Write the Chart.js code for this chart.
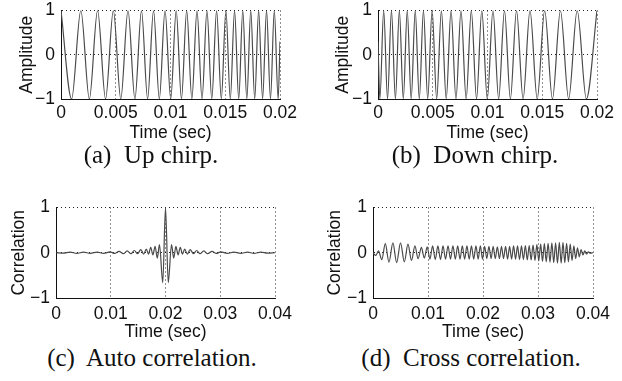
<!DOCTYPE html>
<html>
<head>
<meta charset="utf-8">
<script src="https://cdn.jsdelivr.net/npm/chart.js@4.4.0/dist/chart.umd.min.js"></script>
<style>
  body { margin: 0; background: #fff; width: 622px; height: 381px; overflow: hidden; position: relative; }
  canvas { position: absolute; }
  .cap { position: absolute; font-family: "Liberation Serif", "Times New Roman", serif; font-size: 25px; color: #111;
         white-space: pre; transform: translate(-50%, -50%); }
</style>
</head>
<body>
<canvas id="upChirp"></canvas>
<canvas id="downChirp"></canvas>
<canvas id="autoCorr"></canvas>
<canvas id="crossCorr"></canvas>
<div class="cap" style="left:151px;top:155px">(a)  Up chirp.</div>
<div class="cap" style="left:475px;top:155px">(b)  Down chirp.</div>
<div class="cap" style="left:152px;top:358px">(c)  Auto correlation.</div>
<div class="cap" style="left:471px;top:358px">(d)  Cross correlation.</div>
<script>
// extrema of the chirps (sec, amplitude)
const upTime = [0, 0.00097, 0.00181, 0.00259, 0.00334, 0.00407, 0.00478, 0.00546, 0.00612, 0.00675,
  0.00735, 0.00791, 0.00845, 0.00898, 0.00950, 0.01002, 0.01052, 0.01100, 0.01148, 0.01195,
  0.01242, 0.01288, 0.01333, 0.01377, 0.01421, 0.01464, 0.01506, 0.01546, 0.01585, 0.01623,
  0.01660, 0.01697, 0.01733, 0.01769, 0.01805, 0.01841, 0.01877, 0.01913, 0.01948, 0.01983, 0.02];
const upAmp = [1, -1, 1, -1, 1, -1, 1, -1, 1, -1,
  1, -1, 1, -1, 1, -1, 1, -1, 1, -1,
  1, -1, 1, -1, 1, -1, 1, -1, 1, -1,
  1, -1, 1, -1, 1, -1, 1, -1, 1, -1, 0.3];

const downTime = [0, 0.00017, 0.00052, 0.00087, 0.00123, 0.00159, 0.00195, 0.00231, 0.00267, 0.00303,
  0.00340, 0.00377, 0.00415, 0.00454, 0.00494, 0.00536, 0.00579, 0.00623, 0.00667, 0.00712,
  0.00758, 0.00805, 0.00852, 0.00900, 0.00948, 0.00998, 0.01050, 0.01102, 0.01155, 0.01209,
  0.01265, 0.01325, 0.01388, 0.01454, 0.01522, 0.01593, 0.01666, 0.01741, 0.01819, 0.01903, 0.02];
const downAmp = [0.3, -1, 1, -1, 1, -1, 1, -1, 1, -1,
  1, -1, 1, -1, 1, -1, 1, -1, 1, -1,
  1, -1, 1, -1, 1, -1, 1, -1, 1, -1,
  1, -1, 1, -1, 1, -1, 1, -1, 1, -1, 1];

const autoTime = [0, 0.0013, 0.0026, 0.0038, 0.0050, 0.0063, 0.0075, 0.0087, 0.0099, 0.0107,
  0.0115, 0.0123, 0.0130, 0.0137, 0.0143, 0.0149, 0.0155, 0.0160, 0.0165, 0.0169,
  0.0173, 0.0177, 0.0181, 0.0185, 0.0189, 0.0195, 0.0200, 0.0205, 0.0211, 0.0215,
  0.0219, 0.0223, 0.0227, 0.0231, 0.0235, 0.0240, 0.0245, 0.0251, 0.0257, 0.0263,
  0.0270, 0.0277, 0.0285, 0.0293, 0.0301, 0.0313, 0.0325, 0.0337, 0.0350, 0.0362,
  0.0374, 0.0387, 0.0400];
const autoVal = [0, -0.01, 0.012, -0.012, 0.012, -0.012, 0.015, -0.015, 0.02, -0.015,
  0.03, -0.02, 0.04, -0.02, 0.05, -0.02, 0.07, -0.03, 0.08, -0.03,
  0.12, -0.05, 0.14, -0.12, 0.18, -0.66, 1, -0.66, 0.18, -0.12,
  0.14, -0.05, 0.12, -0.03, 0.08, -0.03, 0.07, -0.02, 0.05, -0.02,
  0.04, -0.02, 0.03, -0.015, 0.02, -0.015, 0.015, -0.012, 0.012, -0.012,
  0.012, -0.01, 0];

const crossTime = [0, 0.0005, 0.0010, 0.0016, 0.00224, 0.0029, 0.00362, 0.0043, 0.00500, 0.0057,
  0.00636, 0.0070, 0.00762, 0.0082, 0.00880, 0.00933, 0.00985, 0.01035, 0.01084, 0.01132,
  0.01180, 0.01227, 0.01273, 0.01319, 0.01364, 0.01409, 0.01453, 0.01497, 0.01540, 0.01582,
  0.01624, 0.01666, 0.01708, 0.01749, 0.01790, 0.01831, 0.01872, 0.01912, 0.01952, 0.01991,
  0.02030, 0.02069, 0.02108, 0.02147, 0.02185, 0.02223, 0.02261, 0.02299, 0.02336, 0.02373,
  0.02410, 0.02447, 0.02484, 0.02520, 0.02556, 0.02592, 0.02628, 0.02664, 0.02700, 0.02735,
  0.02770, 0.02805, 0.02840, 0.02875, 0.02910, 0.02945, 0.02980, 0.03014, 0.03048, 0.03082,
  0.03116, 0.03150, 0.03184, 0.03218, 0.03252, 0.03286, 0.03320, 0.03354, 0.03388, 0.03421,
  0.03454, 0.03487, 0.03520, 0.03553, 0.03586, 0.03619, 0.03652, 0.03685, 0.03718, 0.03751,
  0.03784, 0.03817, 0.03850, 0.03883, 0.03916, 0.03950, 0.04];
const crossVal = [0, -0.06, 0.04, -0.15, 0.2, -0.21, 0.22, -0.22, 0.22, -0.2,
  0.19, -0.17, 0.15, -0.13, 0.12, -0.12, 0.13, -0.14, 0.15, -0.15,
  0.15, -0.15, 0.15, -0.14, 0.15, -0.14, 0.15, -0.14, 0.15, -0.14,
  0.15, -0.14, 0.15, -0.14, 0.15, -0.14, 0.15, -0.14, 0.15, -0.14,
  0.14, -0.13, 0.14, -0.13, 0.14, -0.13, 0.13, -0.13, 0.14, -0.13,
  0.14, -0.14, 0.14, -0.14, 0.15, -0.14, 0.15, -0.15, 0.15, -0.15,
  0.16, -0.16, 0.16, -0.16, 0.17, -0.17, 0.18, -0.18, 0.19, -0.19,
  0.2, -0.2, 0.21, -0.21, 0.22, -0.22, 0.22, -0.23, 0.23, -0.23,
  0.23, -0.22, 0.21, -0.2, 0.19, -0.17, 0.15, -0.13, 0.11, -0.09,
  0.07, -0.05, 0.04, -0.03, 0.02, -0.01, 0];

const chirpTicks = [0, 0.005, 0.01, 0.015, 0.02];
const chirpTickLabels = ['0', '0.005', '0.01', '0.015', '0.02'];
const corrTicks = [0, 0.01, 0.02, 0.03, 0.04];
const corrTickLabels = ['0', '0.01', '0.02', '0.03', '0.04'];
const yTicks = [-1, 0, 1];
const yTickLabels = ['\u22121', '0', '1'];

const sans = { family: '"Liberation Sans", Arial, sans-serif', size: 17.5 };
const ink = '#111';

const pts = (t, v) => t.map((x, i) => ({ x, y: v[i] }));

function config(times, vals, xTicks, xLabels, yTitle, box) {
  return {
    type: 'line',
    data: {
      datasets: [{
        data: pts(times, vals),
        borderColor: '#4a4a4a',
        borderWidth: 1.2,
        pointRadius: 0,
        cubicInterpolationMode: 'monotone',
        fill: false
      }]
    },
    options: {
      responsive: false,
      animation: false,
      devicePixelRatio: 1,
      plugins: { legend: { display: false }, tooltip: { enabled: false } },
      layout: { padding: { top: 12, right: 26, left: 0, bottom: 0 } },
      scales: {
        x: {
          type: 'linear',
          min: xTicks[0],
          max: xTicks[xTicks.length - 1],
          afterBuildTicks: s => { s.ticks = xTicks.map(value => ({ value })); },
          afterFit: s => { s.height = box.xh; },
          ticks: { callback: (v, i) => xLabels[i], padding: box.tp, maxRotation: 0, autoSkip: false, font: sans, color: ink },
          grid: { color: '#222', lineWidth: 1, drawTicks: false },
          border: { color: ink, width: 1, dash: [1, 3] },
          title: { display: true, text: 'Time (sec)', padding: 0, font: sans, color: ink }
        },
        y: {
          min: -1,
          max: 1,
          afterBuildTicks: s => { s.ticks = yTicks.map(value => ({ value })); },
          afterFit: s => { s.width = box.yw; },
          ticks: { callback: (v, i) => yTickLabels[i], padding: 6, font: sans, color: ink },
          grid: { color: '#222', lineWidth: 1, drawTicks: false },
          border: { color: ink, width: 1, dash: [1, 3] },
          title: { display: true, text: yTitle, padding: 0, font: sans, color: ink }
        }
      }
    }
  };
}

function panel(id, times, vals, xTicks, xLabels, yTitle, box) {
  const canvas = document.getElementById(id);
  canvas.width = box.yw + box.w + 32;
  canvas.height = box.h + box.xh + 25;
  let chart = new Chart(canvas.getContext('2d'), config(times, vals, xTicks, xLabels, yTitle, box));
  const a = chart.chartArea;
  const dw = box.w - (a.right - a.left);
  const dh = box.h - (a.bottom - a.top);
  if (dw || dh) {
    chart.destroy();
    canvas.width = canvas.width + dw;
    canvas.height = canvas.height + dh;
    chart = new Chart(canvas.getContext('2d'), config(times, vals, xTicks, xLabels, yTitle, box));
  }
  const b = chart.chartArea;
  canvas.style.left = (box.x - b.left) + 'px';
  canvas.style.top = (box.y - b.top) + 'px';
}

panel('upChirp', upTime, upAmp, chirpTicks, chirpTickLabels, 'Amplitude',
  { x: 61, y: 10, w: 219, h: 89, yw: 44, xh: 45, tp: 4 });
panel('downChirp', downTime, downAmp, chirpTicks, chirpTickLabels, 'Amplitude',
  { x: 378, y: 10, w: 219, h: 89, yw: 45, xh: 45, tp: 4 });
panel('autoCorr', autoTime, autoVal, corrTicks, corrTickLabels, 'Correlation',
  { x: 56, y: 207, w: 219, h: 91, yw: 47, xh: 45, tp: 6 });
panel('crossCorr', crossTime, crossVal, corrTicks, corrTickLabels, 'Correlation',
  { x: 373, y: 207, w: 220, h: 91, yw: 48, xh: 45, tp: 6 });
</script>
</body>
</html>
